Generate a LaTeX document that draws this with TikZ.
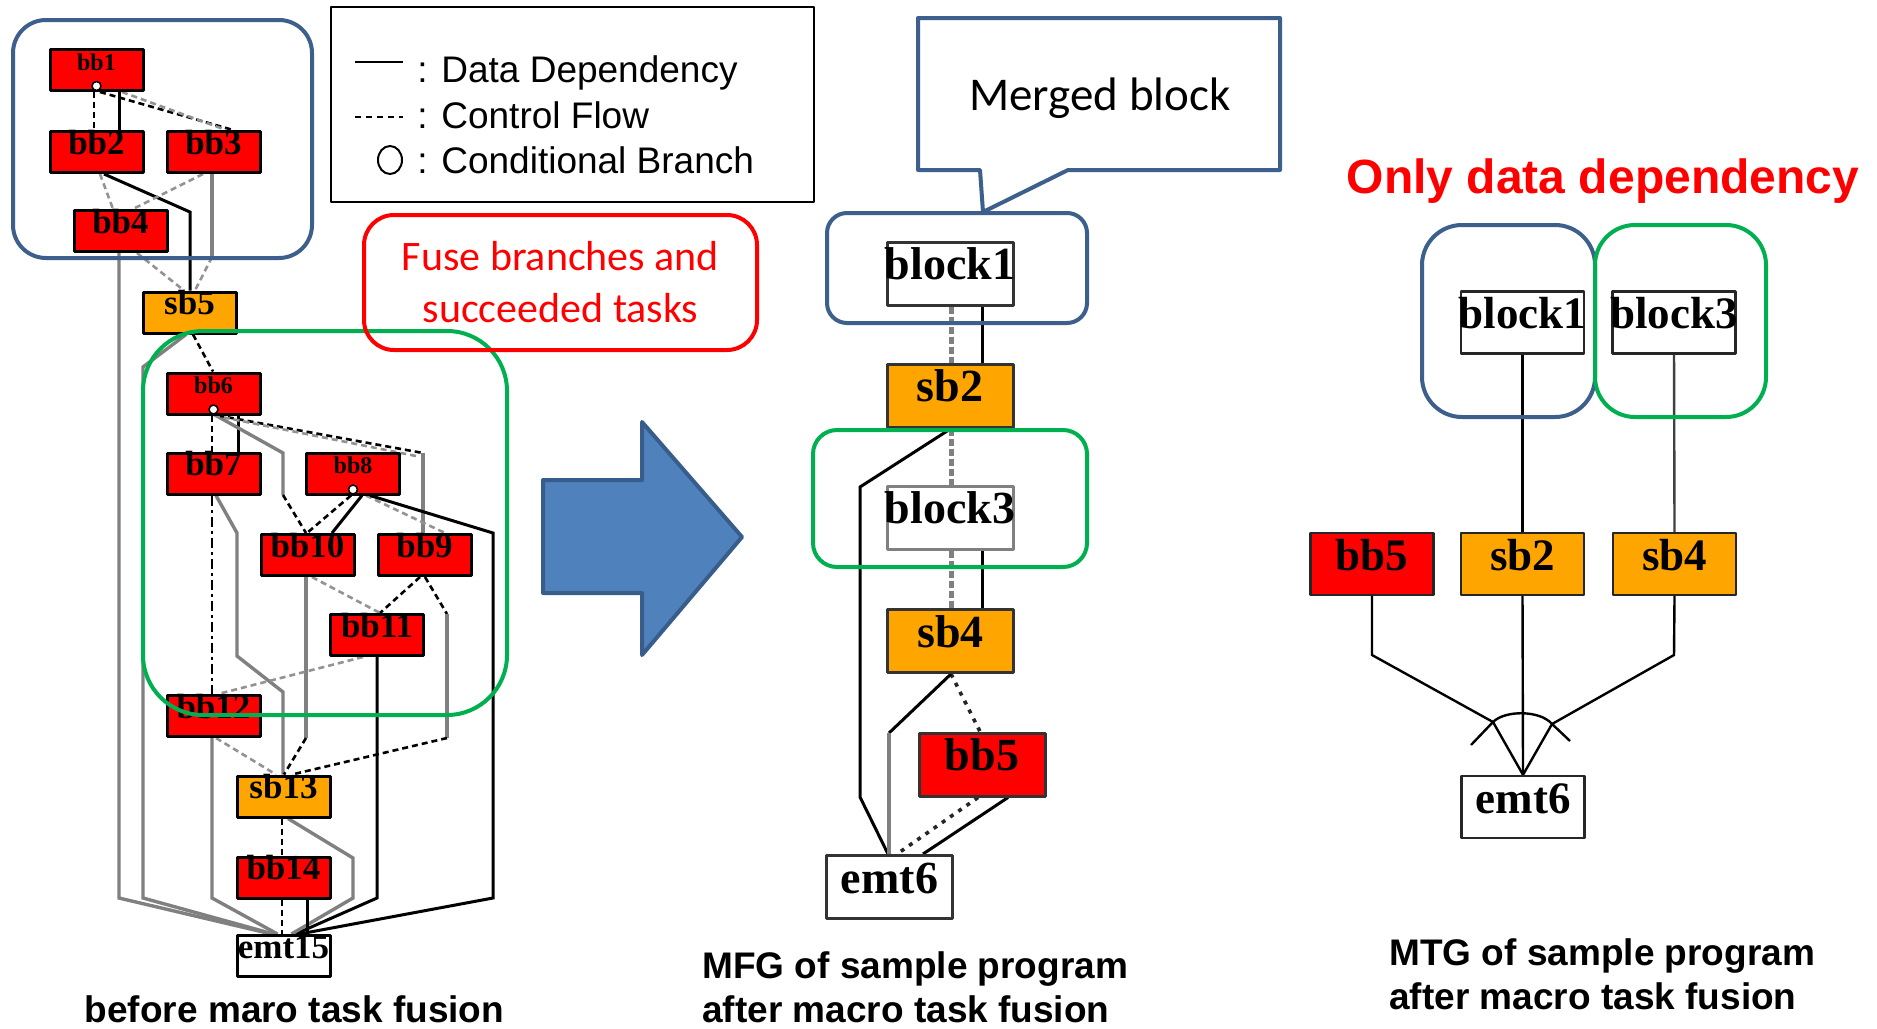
\documentclass[tikz,border=0pt]{standalone}
\usepackage{fontspec}
\setmainfont{Liberation Sans}
\newfontfamily\calib{Carlito}
\newfontfamily\tnr{Liberation Serif}
\definecolor{frameblue}{HTML}{3C5F8C}
\definecolor{framegreen}{HTML}{00B050}
\definecolor{bbred}{HTML}{FF0000}
\definecolor{sborange}{HTML}{FFA500}
\definecolor{arrowfill}{HTML}{4F81BD}
\definecolor{arrowdraw}{HTML}{385D8A}
\newcommand{\lbl}[1]{\makebox[0pt]{#1}}
\pgfdeclarelayer{bg}
\pgfsetlayers{bg,main}
\tikzset{
 lb/.style={draw=black, line width=1.5pt, minimum width=46.5pt, minimum height=20.5pt, inner sep=0pt,
   font=\tnr\bfseries\fontsize{17.5}{18}\selectfont, text height=11pt, text depth=9pt},
 lsmall/.style={font=\tnr\bfseries\fontsize{12}{12}\selectfont, text height=6pt, text depth=6pt},
 redf/.style={fill=bbred},
 orf/.style={fill=sborange},
 whf/.style={fill=white},
 cond/.style={circle, draw=black, fill=white, line width=0.8pt, inner sep=0pt, minimum size=4.5pt},
 data/.style={draw=black, line width=1.5pt},
 ctrl/.style={draw=black, line width=1.3pt, dash pattern=on 3pt off 2pt},
 gctrl/.style={draw=gray!85, line width=1.3pt, dash pattern=on 3pt off 2pt},
 gline/.style={draw=gray, line width=1.7pt},
 dashdot/.style={draw=black, line width=1.4pt, dash pattern=on 5pt off 2pt on 1.5pt off 2pt},
 mb/.style={draw=black!80, line width=1.5pt, minimum width=63pt, minimum height=31.5pt, inner sep=0pt,
   font=\tnr\bfseries\fontsize{23}{24}\selectfont, text height=16pt, text depth=10pt},
 mdot/.style={draw=gray, line width=2.5pt, dash pattern=on 3.5pt off 1.5pt},
 mctrl/.style={draw=black!85, line width=1.8pt, dash pattern=on 2pt off 3pt},
 mdata/.style={draw=black, line width=1.5pt},
 rb/.style={draw=black!85, line width=1.2pt, minimum width=61.5pt, minimum height=31pt, inner sep=0pt,
   font=\tnr\bfseries\fontsize{22.5}{23}\selectfont, text height=15pt, text depth=9pt},
 rline/.style={draw=black, line width=1.2pt},
 bframe/.style={draw=frameblue, line width=2pt},
 gframe/.style={draw=framegreen, line width=2pt},
 capt/.style={font=\bfseries\fontsize{18.5}{22}\selectfont, inner sep=0pt},
}
\begin{document}
\begin{tikzpicture}[x=0.5pt, y=-0.5pt, line join=round]
\begin{pgfonlayer}{bg}
\fill[white] (0,0) rectangle (1877,1028);
\end{pgfonlayer}
\useasboundingbox (0,0) rectangle (1877,1028);

% ---------------- left graph nodes
\node[lb,redf,lsmall] (bb1) at (96.5,70) {\lbl{bb1}};
\node[lb,redf] (bb2) at (96.5,152) {\lbl{bb2}};
\node[lb,redf] (bb3) at (213.5,152) {\lbl{bb3}};
\node[lb,redf] (bb4) at (120.5,231) {\lbl{bb4}};
\node[lb,orf] (sb5) at (189.5,312.5) {\lbl{sb5}};
\node[lb,redf,lsmall] (bb6) at (213.5,393.5) {\lbl{bb6}};
\node[lb,redf] (bb7) at (213.5,473.5) {\lbl{bb7}};
\node[lb,redf,lsmall] (bb8) at (353,473.5) {\lbl{bb8}};
\node[lb,redf] (bb10) at (307.5,555) {\lbl{bb10}};
\node[lb,redf] (bb9) at (424.5,555) {\lbl{bb9}};
\node[lb,redf] (bb11) at (377,635) {\lbl{bb11}};
\node[lb,redf] (bb12) at (213.5,716) {\lbl{bb12}};
\node[lb,orf] (sb13) at (283.5,796.5) {\lbl{sb13}};
\node[lb,redf] (bb14) at (283.5,877.5) {\lbl{bb14}};
\node[lb,whf] (emt15) at (283.5,956) {\lbl{emt15}};
\node[cond] (c1) at ([yshift=3pt]bb1.south) {};
\node[cond] (c6) at ([yshift=3pt]bb6.south) {};
\node[cond] (c8) at ([yshift=3pt]bb8.south) {};

% ---------------- middle graph nodes
\node[mb, whf] (m1) at (950,273.5) {\lbl{block1}};
\node[mb, orf] (m2) at (950,395.5) {\lbl{sb2}};
\node[mb, whf, draw=gray] (m3) at (950,517.5) {\lbl{block3}};
\node[mb, orf] (m4) at (950.5,641) {\lbl{sb4}};
\node[mb, redf] (m5) at (982,764.5) {\lbl{bb5}};
\node[mb, whf] (m6) at (889.5,887) {\lbl{emt6}};

% ---------------- right graph nodes
\node[rb, whf] (r1) at (1522.5,322.5) {\lbl{block1}};
\node[rb, whf] (r3) at (1674,322.5) {\lbl{block3}};
\node[rb, redf] (r5) at (1372,564) {\lbl{bb5}};
\node[rb, orf] (r2) at (1522.5,564) {\lbl{sb2}};
\node[rb, orf] (r4) at (1674.5,564) {\lbl{sb4}};
\node[rb, whf] (r6) at (1523,807) {\lbl{emt6}};

\begin{pgfonlayer}{bg}
% ---- left edges
\draw[ctrl] (94,0 |- bb1.south) -- (94,0 |- bb2.north);
\draw[data] (119,0 |- bb1.south) -- (119,0 |- bb2.north);
\draw[ctrl] (100,0 |- bb1.south) -- (233,0 |- bb3.north);
\draw[gctrl] (122,0 |- bb1.south) -- (226,0 |- bb3.north);
\draw[gctrl] (100,0 |- bb2.south) -- (113,0 |- bb4.north);
\draw[data] (104,0 |- bb2.south) -- (190,212) -- (190,0 |- sb5.north);
\draw[gctrl] (203,0 |- bb3.south) -- (133,0 |- bb4.north);
\draw[gline] (212,0 |- bb3.south) -- (212,257) coordinate (k1);
\draw[gctrl] (k1) -- (195,0 |- sb5.north);
\draw[gline] (119,0 |- bb4.south) -- (119,898) -- ([xshift=-6pt]emt15.north);
\draw[gctrl] (137,0 |- bb4.south) -- (184,0 |- sb5.north);
\draw[ctrl] (193,0 |- sb5.south) -- (213,0 |- bb6.north);
\draw[gline] (186,0 |- sb5.south) -- (143,367) -- (143,898) -- ([xshift=-5pt]emt15.north);
\draw[ctrl] (212,0 |- bb6.south) -- (212,0 |- bb7.north);
\draw[data] (238,0 |- bb6.south) -- (238,0 |- bb7.north);
\draw[gline] (216,0 |- bb6.south) -- (283,453) -- (283,495) coordinate (k2);
\draw[ctrl] (k2) -- (306,0 |- bb10.north);
\draw[ctrl] (218,0 |- bb6.south) -- (423,453) coordinate (k3);
\draw[gctrl] (214,0 |- bb6.south) -- (416,456);
\draw[gline] (k3) -- (423,0 |- bb9.north);
\draw[dashdot] (212,0 |- bb7.south) -- (212,0 |- bb12.north);
\draw[gline] (216,0 |- bb7.south) -- (237,533) -- (237,656) -- (283,692) -- (283,0 |- sb13.north);
\draw[ctrl] (351,0 |- bb8.south) -- (307,0 |- bb10.north);
\draw[data] (362,0 |- bb8.south) -- (332,0 |- bb10.north);
\draw[gctrl] (366,0 |- bb8.south) -- (445,0 |- bb9.north);
\draw[data] (370,0 |- bb8.south) -- (493,533) -- (493,898) -- ([xshift=8pt]emt15.north);
\draw[gline] (306,0 |- bb10.south) -- (306,738) coordinate (k4);
\draw[ctrl] (k4) -- (284,0 |- sb13.north);
\draw[gctrl] (312,0 |- bb10.south) -- (380,0 |- bb11.north);
\draw[ctrl] (420,0 |- bb9.south) -- (380,0 |- bb11.north);
\draw[ctrl] (425,0 |- bb9.south) -- (447,614) coordinate (k5);
\draw[gline] (k5) -- (447,738) coordinate (k6);
\draw[ctrl] (k6) -- (292,0 |- sb13.north);
\draw[gctrl] (363,0 |- bb11.south) -- (218,0 |- bb12.north);
\draw[data] (377,0 |- bb11.south) -- (377,898) -- ([xshift=6pt]emt15.north);
\draw[gctrl] (216,0 |- bb12.south) -- (276,0 |- sb13.north);
\draw[gline] (212,0 |- bb12.south) -- (212,898) -- ([xshift=-3pt]emt15.north);
\draw[ctrl] (282,0 |- sb13.south) -- (282,0 |- bb14.north);
\draw[gline] (288,0 |- sb13.south) -- (353,858) -- (353,898) -- ([xshift=4pt]emt15.north);
\draw[ctrl] (282,0 |- bb14.south) -- (282,0 |- emt15.north);
\draw[data] (307,0 |- bb14.south) -- (307,0 |- emt15.north);

% ---- middle edges
\draw[mdot] (951,0 |- m1.south) -- (951,0 |- m2.north);
\draw[mdata] (982,0 |- m1.south) -- (982,0 |- m2.north);
\draw[mdot] (951,0 |- m2.south) -- (951,0 |- m3.north);
\draw[mdata] (951,0 |- m2.south) -- (860,487) -- (860,797) -- (888,0 |- m6.north);
\draw[mdot] (951,0 |- m3.south) -- (951,0 |- m4.north);
\draw[mdata] (982,0 |- m3.south) -- (982,0 |- m4.north);
\draw[mctrl] (951,0 |- m4.south) -- (980,0 |- m5.north);
\draw[mdata] (951,0 |- m4.south) -- (889,733) coordinate (k7);
\draw[gline, line width=2.2pt] (k7) -- (889,0 |- m6.north);
\draw[mctrl] (978,0 |- m5.south) -- (897,0 |- m6.north);
\draw[mdata] (1008,0 |- m5.south) -- (923,0 |- m6.north);

% ---- right edges
\coordinate (aL) at (1493,722);
\coordinate (aR) at (1552,724);
\draw[rline] (r1.south) -- (r2.north);
\draw[rline, draw=black!75] (r3.south) -- (r4.north);
\draw[rline] (r2.south) -- (r6.north);
\draw[rline] (r5.south) -- (1372,655) -- (aL) -- (r6.north);
\draw[rline] (r4.south) -- (1674,655) -- (aR) -- (r6.north);
\draw[rline] (aL) .. controls (1505,710) and (1540,710) .. (aR);
\draw[rline] (aL) -- (1471,745);
\draw[rline] (aR) -- (1570,741);
\end{pgfonlayer}

% ---------------- frames
\draw[bframe, rounded corners=16.5pt] (13,20) rectangle (312,258);
\draw[gframe, rounded corners=30pt] (143,331) rectangle (507,715);
\draw[bframe, rounded corners=10pt] (827,213) rectangle (1087,323);
\draw[gframe, rounded corners=12pt] (813,430) rectangle (1087,567);
\draw[bframe, rounded corners=20pt] (1422,225) rectangle (1595,417);
\draw[gframe, rounded corners=20pt] (1595,225) rectangle (1766,417);

% ---------------- fuse box
\node[draw=bbred, line width=2pt, rounded corners=15pt, minimum width=196.5pt, minimum height=67.5pt,
  align=center, text=bbred, font=\calib\fontsize{21}{26}\selectfont] (fuse) at (560.5,282.5)
  {Fuse branches and\\succeeded tasks};

% ---------------- legend
\draw[line width=1pt] (331,7) rectangle (814,202);
\draw[line width=1pt] (355,62) -- (403,62);
\draw[line width=1pt, dash pattern=on 3pt off 2.5pt] (355,117) -- (403,117);
\draw[line width=1pt] (390,160) ellipse [x radius=6pt, y radius=7pt];
\node[anchor=base west, font=\fontsize{18.5}{20}\selectfont, inner sep=0pt] (lg1) at (417,82) {: Data Dependency};
\node[anchor=base west, font=\fontsize{18.5}{20}\selectfont, inner sep=0pt] (lg2) at (417,128) {: Control Flow};
\node[anchor=base west, font=\fontsize{18.5}{20}\selectfont, inner sep=0pt] (lg3) at (417,173) {: Conditional Branch};

% ---------------- callout
\draw[draw=frameblue, line width=2pt, fill=white] (918,18) -- (1280,18) -- (1280,170) -- (1068,170) -- (983,212) -- (980,170) -- (918,170) -- cycle;
\node[anchor=base, font=\calib\fontsize{23.5}{24}\selectfont, inner sep=0pt] (merged) at (1100,110) {Merged block};

% ---------------- big arrow
\draw[fill=arrowfill, draw=arrowdraw, line width=2pt] (543,480) -- (642,480) -- (642,422) -- (742,537) -- (642,655) -- (642,593) -- (543,593) -- cycle;

% ---------------- captions
\node[anchor=base, font=\bfseries\fontsize{24}{25}\selectfont, text=bbred, inner sep=0pt] (only) at (1603,193) {Only data dependency};
\node[capt, anchor=base] (cap1) at (294.5,1022) {before maro task fusion};
\node[capt, anchor=base west, align=left] (cap2) at (702,1022) {MFG of sample program\\after macro task fusion};
\node[capt, anchor=base west, align=left] (cap3) at (1389,1009) {MTG of sample program\\after macro task fusion};
\end{tikzpicture}
\end{document}
